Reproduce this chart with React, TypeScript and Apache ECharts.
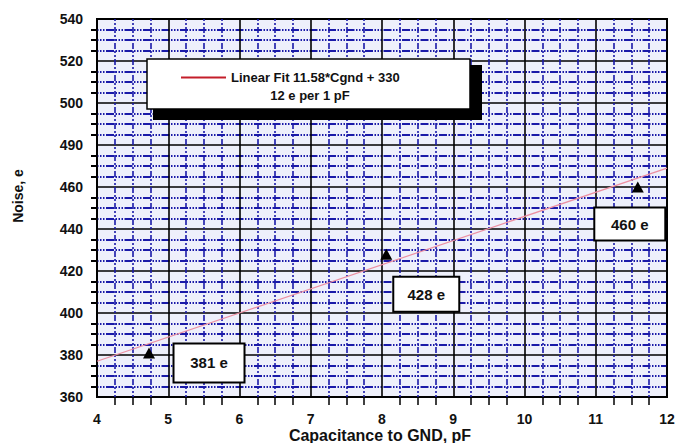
import React, { useEffect, useRef } from "react";
import * as echarts from "echarts";

const xTicks = [4, 5, 6, 7, 8, 9, 10, 11, 12];
const yTickLabels = ["360", "380", "400", "420", "440", "460", "490", "500", "520", "540"];
const capacitance = [4.73, 8.06, 11.59];
const noise = [381, 428, 460];
const fitX = [4, 12];
const fitY = [377, 469];
const fitName = "Linear Fit 11.58*Cgnd + 330";
const fitNote = "12 e per 1 pF";
const labelOffsets = [[60, 10], [40, 40], [-8, 37]];
const labelSizes = [[73, 41], [68, 37], [73, 35]];

const FONT = "'Liberation Sans', Arial, sans-serif";

export default function App() {
  const ref = useRef<HTMLDivElement>(null);
  useEffect(() => {
    if (!ref.current) return;
    const chart = echarts.init(ref.current, null, { renderer: "svg" });
    const minorLineH = { color: "#1a1aa8", width: 2, type: [1.5, 1.5, 1.5, 1.5, 1.5, 1.5, 8, 1.5] };
    const minorLineV = { color: "#1a1aa8", width: 1.6, type: [2, 2, 2, 2, 6, 2] };
    chart.setOption({
      animation: false,
      backgroundColor: "#ffffff",
      grid: {
        left: 97, right: 15, top: 19, bottom: 46,
        show: true, backgroundColor: "#eef0fb", borderColor: "#000", borderWidth: 2,
      },
      xAxis: {
        type: "value", min: xTicks[0], max: xTicks[xTicks.length - 1], interval: 1,
        axisLine: { show: false },
        axisTick: { show: false },
        minorTick: { show: true, splitNumber: 4, length: 8, lineStyle: { color: "#000", width: 1.5 } },
        axisLabel: { margin: 15, color: "#111", fontFamily: FONT, fontWeight: "bold", fontSize: 14 },
        splitLine: { show: true, lineStyle: { color: "#000", width: 1.6 } },
        minorSplitLine: { show: true, lineStyle: minorLineV },
      },
      yAxis: {
        type: "value", min: 360, max: 540, interval: 20,
        axisLine: { show: false },
        axisTick: { show: false },
        minorTick: { show: true, splitNumber: 4, length: 6, lineStyle: { color: "#000", width: 2 } },
        axisLabel: {
          margin: 14, color: "#111", fontFamily: FONT, fontWeight: "bold", fontSize: 14,
          formatter: (v: number) => yTickLabels[Math.round((v - 360) / 20)],
        },
        splitLine: { show: true, lineStyle: { color: "#000", width: 1.6 } },
        minorSplitLine: { show: true, lineStyle: minorLineH },
      },
      legend: {
        left: 176, top: 66, z: 10,
        itemWidth: 45, itemHeight: 2, itemGap: 5,
        data: [{ name: fitName, icon: "rect", itemStyle: { color: "#c41e2a" } }],
        textStyle: { color: "#111", fontFamily: FONT, fontWeight: "bold", fontSize: 13 },
        selectedMode: false,
      },
      graphic: [
        { type: "rect", z: 5, shape: { x: 153, y: 65, width: 329, height: 55 }, style: { fill: "#000" } },
        { type: "rect", z: 6, shape: { x: 147, y: 59, width: 323, height: 50 }, style: { fill: "#fff", stroke: "#000", lineWidth: 1.5 } },
        { type: "text", z: 7, x: 310, y: 95, style: { text: fitNote, fill: "#111", font: `bold 13px ${FONT}`, textAlign: "center", textVerticalAlign: "middle" } },
        { type: "text", z: 7, x: 18, y: 196, rotation: Math.PI / 2, style: { text: "Noise, e", fill: "#111", font: `bold 14px ${FONT}`, textAlign: "center", textVerticalAlign: "middle" } },
        { type: "text", z: 7, x: 380, y: 435, style: { text: "Capacitance to GND, pF", fill: "#111", font: `bold 16px ${FONT}`, textAlign: "center", textVerticalAlign: "middle" } },
      ],
      series: [
        {
          name: fitName, type: "line", z: 3,
          data: fitX.map((x, i) => [x, fitY[i]]),
          symbol: "none",
          lineStyle: { color: "#ec8fa2", width: 1.2 },
        },
        {
          name: "Noise", type: "scatter", z: 4,
          symbol: "triangle", symbolSize: [12, 11],
          itemStyle: { color: "#000", opacity: 1 },
          data: capacitance.map((x, i) => ({
            value: [x, noise[i]],
            label: {
              show: true, position: "inside", opacity: 1,
              offset: labelOffsets[i],
              width: labelSizes[i][0] - 4, height: labelSizes[i][1] - 4,
              align: "center", verticalAlign: "middle", lineHeight: labelSizes[i][1] - 4,
              backgroundColor: "#fff", borderColor: "#000", borderWidth: 2,
              color: "#111", fontFamily: FONT, fontWeight: "bold", fontSize: 15,
              formatter: () => `${noise[i]} e`,
            },
          })),
        },
      ],
    });
    return () => chart.dispose();
  }, []);
  return <div ref={ref} style={{ position: "fixed", left: 0, top: 0, width: 682, height: 443 }} />;
}
